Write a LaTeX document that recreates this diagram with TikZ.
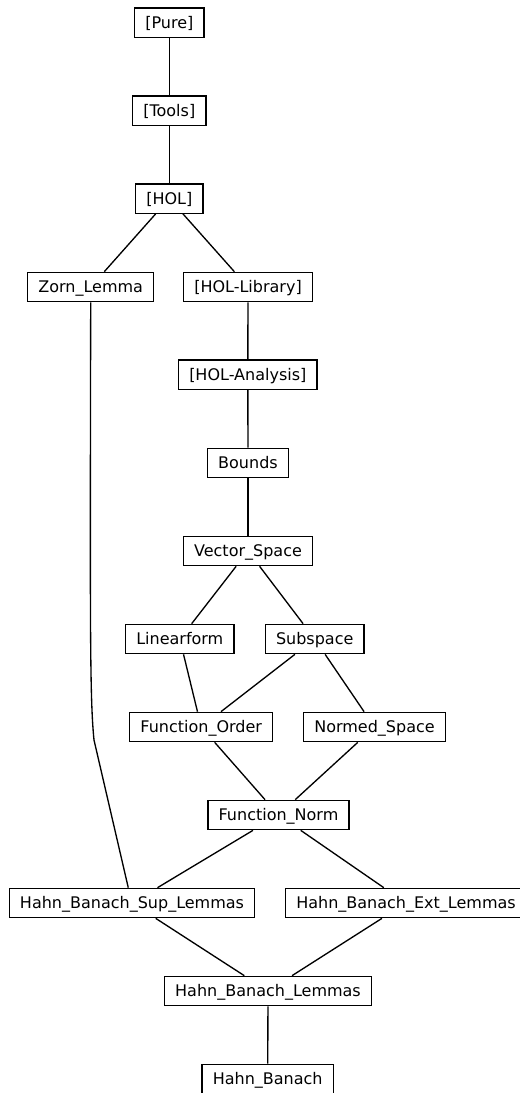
\documentclass[tikz,border=0pt]{standalone}
\usepackage{fontspec}
\setmainfont{DejaVu Sans}
\usepackage{tikz}

\begin{document}
\begin{tikzpicture}[x=0.75pt,y=-0.75pt,line width=1pt,
    thy/.style={draw=black,rectangle,font=\fontsize{12}{14}\selectfont,
      inner xsep=8pt,inner ysep=0pt,minimum height=22pt,
      text height=8.75pt,text depth=0pt}]
      \useasboundingbox (0,0) rectangle (519,1093);
      % sessions
      \node [thy] (pure) at (169.3,22.7) {[Pure]};
      \node [thy] (tools) at (169.3,110.8) {[Tools]};
      \node [thy] (hol) at (169.3,198.5) {[HOL]};
      \node [thy] (zorn) at (90.7,287) {Zorn\_Lemma};
      \node [thy] (hollib) at (248,287) {[HOL-Library]};
      \node [thy] (holana) at (247.8,374.8) {[HOL-Analysis]};
      \node [thy] (bounds) at (248,463) {Bounds};
      \node [thy] (vecspace) at (248,551) {Vector\_Space};
      \node [thy] (linform) at (179.8,639) {Linearform};
      \node [thy] (subspace) at (314.7,639) {Subspace};
      \node [thy] (funorder) at (201.2,727) {Function\_Order};
      \node [thy] (normspace) at (374.5,727) {Normed\_Space};
      \node [thy] (funnorm) at (278.5,815) {Function\_Norm};
      \node [thy] (hbsup) at (132,903) {Hahn\_Banach\_Sup\_Lemmas};
      \node [thy] (hbext) at (406,903) {Hahn\_Banach\_Ext\_Lemmas};
      \node [thy] (hblemmas) at (268,991) {Hahn\_Banach\_Lemmas};
      \node [thy] (hb) at (267.7,1079) {Hahn\_Banach};
      % imports
      \draw (pure) -- (tools);
      \draw (tools) -- (hol);
      \draw (hol) -- (zorn);
      \draw (hol) -- (hollib);
      \draw (hollib) -- (holana);
      \draw (holana) -- (bounds);
      \draw (bounds) -- (vecspace);
      \draw (vecspace) -- (linform);
      \draw (vecspace) -- (subspace);
      \draw (linform) -- (funorder);
      \draw (subspace) -- (funorder);
      \draw (subspace) -- (normspace);
      \draw (funorder) -- (funnorm);
      \draw (normspace) -- (funnorm);
      \draw (funnorm) -- (hbsup);
      \draw (funnorm) -- (hbext);
      \draw (zorn.south) .. controls (90,640) and (90,700) .. (94,740) -- ([xshift=-2.8pt]hbsup.north);
      \draw (hbsup) -- (hblemmas);
      \draw (hbext) -- (hblemmas);
      \draw (hblemmas) -- (hb);
    \end{tikzpicture}
\end{document}
